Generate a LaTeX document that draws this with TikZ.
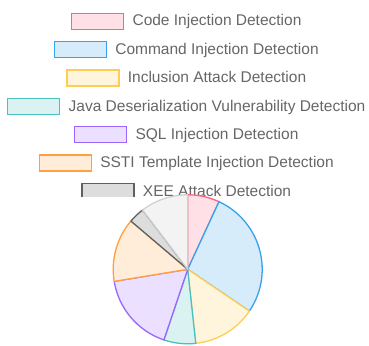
\documentclass[tikz,border=0pt]{standalone}
\usepackage{fontspec}
\setmainfont{Liberation Sans}
\usepackage{tikz}
\usetikzlibrary{positioning}
\tikzstyle{chart} = [x = 1pt, y = -1pt]
\definecolor{textColor}{RGB}{102,102,102}
\definecolor{codeLine}{RGB}{255,99,132}
\definecolor{codeFill}{RGB}{255,224,230}
\definecolor{commandLine}{RGB}{54,162,235}
\definecolor{commandFill}{RGB}{215,236,251}
\definecolor{inclusionLine}{RGB}{255,205,86}
\definecolor{inclusionFill}{RGB}{255,245,221}
\definecolor{javaLine}{RGB}{75,192,192}
\definecolor{javaFill}{RGB}{219,242,242}
\definecolor{sqlLine}{RGB}{153,102,255}
\definecolor{sqlFill}{RGB}{235,224,255}
\definecolor{sstiLine}{RGB}{255,159,64}
\definecolor{sstiFill}{RGB}{255,236,217}
\definecolor{xeeLine}{RGB}{96,96,96}
\definecolor{xeeFill}{RGB}{221,221,221}
\definecolor{otherLine}{RGB}{208,208,208}
\definecolor{otherFill}{RGB}{243,243,243}
\tikzstyle{legendText} = [text = textColor, font = \fontsize{15.5}{18}\selectfont, inner sep = 0pt, text height = 9.4pt, text depth = 0pt, anchor = center]
\tikzstyle{legendBox} = [minimum width = 52pt, minimum height = 16pt, inner sep = 0pt, line width = 1.3pt]
\tikzstyle{sliceStyle} = [line width = 1.3pt, line join = round]
\newcommand{\pieX}{187.7}
\newcommand{\pieY}{269.3}
\newcommand{\pieR}{74.5}
\newcommand{\legendEntry}[4]{
  \node [legendText] (#1Text) at (217, #2) {#3};
  \node [legendBox, draw = #4Line, fill = #4Fill, left = 8pt of #1Text] (#1Box) {};
}
% y points down, so angles grow clockwise; -90 is the top
\newcommand{\pieSlice}[3]{
  \pgfmathsetmacro{\startAngle}{-90 + #1 * 360 / 29}
  \pgfmathsetmacro{\endAngle}{-90 + #2 * 360 / 29}
  \filldraw [sliceStyle, draw = #3Line, fill = #3Fill] (pieCenter) -- ++(\startAngle:\pieR) arc [start angle = \startAngle, end angle = \endAngle, radius = \pieR] -- cycle;
}

\begin{document}
\begin{tikzpicture}[chart]
  \useasboundingbox (0, 0) rectangle (369, 345);
  \begin{scope}
    \clip (0, 0) rectangle (369, 196);
    \legendEntry{code}{21.3}{Code Injection Detection}{code}
    \legendEntry{command}{49.6}{Command Injection Detection}{command}
    \legendEntry{inclusion}{77.9}{Inclusion Attack Detection}{inclusion}
    \legendEntry{java}{106.5}{Java Deserialization Vulnerability Detection}{java}
    \legendEntry{sql}{134.7}{SQL Injection Detection}{sql}
    \legendEntry{ssti}{163}{SSTI Template Injection Detection}{ssti}
    \legendEntry{xee}{191.8}{XEE Attack Detection}{xee}
  \end{scope}

  \coordinate (pieCenter) at (\pieX, \pieY);
  \pieSlice{0}{2}{code}
  \pieSlice{2}{10}{command}
  \pieSlice{10}{14}{inclusion}
  \pieSlice{14}{16}{java}
  \pieSlice{16}{21}{sql}
  \pieSlice{21}{25}{ssti}
  \pieSlice{25}{26}{xee}
  \pieSlice{26}{29}{other}
\end{tikzpicture}
\end{document}
